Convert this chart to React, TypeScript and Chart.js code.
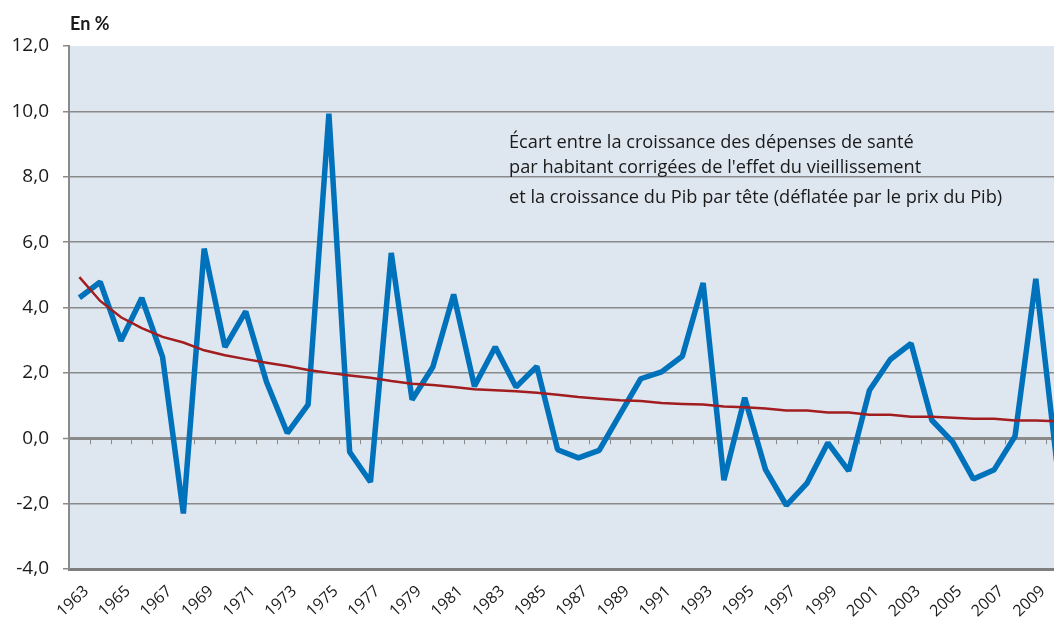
import React, { useEffect, useRef } from 'react';
import { Chart, registerables } from 'chart.js';

Chart.register(...registerables);

// Categories (years)
const years: string[] = [
  '1963', '1964', '1965', '1966', '1967', '1968', '1969', '1970', '1971', '1972',
  '1973', '1974', '1975', '1976', '1977', '1978', '1979', '1980', '1981', '1982',
  '1983', '1984', '1985', '1986', '1987', '1988', '1989', '1990', '1991', '1992',
  '1993', '1994', '1995', '1996', '1997', '1998', '1999', '2000', '2001', '2002',
  '2003', '2004', '2005', '2006', '2007', '2008', '2009', '2010',
];

// Écart entre croissance des dépenses de santé et croissance du Pib (en %)
const ecart: number[] = [
  4.30, 4.78, 2.98, 4.29, 2.49, -2.30, 5.80, 2.79, 3.88, 1.72,
  0.16, 1.03, 9.93, -0.42, -1.34, 5.67, 1.18, 2.18, 4.40, 1.59,
  2.79, 1.57, 2.20, -0.35, -0.60, -0.37, 0.73, 1.82, 2.03, 2.51,
  4.75, -1.28, 1.24, -0.96, -2.05, -1.37, -0.14, -1.00, 1.47, 2.41,
  2.90, 0.55, -0.11, -1.25, -0.96, 0.06, 4.88, -0.70,
];

// Tendance
const tendance: number[] = [
  4.93, 4.20, 3.70, 3.37, 3.10, 2.93, 2.69, 2.54, 2.42, 2.31,
  2.21, 2.09, 2.00, 1.92, 1.85, 1.75, 1.67, 1.63, 1.57, 1.50,
  1.47, 1.44, 1.39, 1.33, 1.26, 1.21, 1.16, 1.14, 1.08, 1.05,
  1.03, 0.97, 0.95, 0.91, 0.85, 0.85, 0.79, 0.79, 0.72, 0.72,
  0.66, 0.66, 0.63, 0.60, 0.60, 0.54, 0.54, 0.52,
];

const yMin = -4;
const yMax = 12;
const yStep = 2;

const unitLabel = 'En %';
const noteLines: string[] = [
  "Écart entre la croissance des dépenses de santé",
  "par habitant corrigées de l'effet du vieillissement",
  "et la croissance du Pib par tête (déflatée par le prix du Pib)",
];

const GRID = '#8a8a8a';

const plotBg = {
  id: 'plotBg',
  beforeDraw(chart: any) {
    const { ctx, chartArea: a } = chart;
    ctx.save();
    ctx.fillStyle = '#dee6f0';
    ctx.fillRect(a.left, a.top, a.right - a.left, a.bottom - a.top);
    ctx.restore();
  },
};

const zeroTicks = {
  id: 'zeroTicks',
  beforeDatasetsDraw(chart: any) {
    const { ctx } = chart;
    const xs = chart.scales.x;
    const ys = chart.scales.y;
    const y0 = ys.getPixelForValue(0);
    const n = years.length;
    ctx.save();
    ctx.strokeStyle = GRID;
    ctx.lineWidth = 1;
    ctx.beginPath();
    for (let i = 1; i < n; i++) {
      const px = Math.round((xs.getPixelForValue(i - 1) + xs.getPixelForValue(i)) / 2) + 0.5;
      ctx.moveTo(px, y0);
      ctx.lineTo(px, y0 + 6);
    }
    ctx.stroke();
    ctx.restore();
  },
};

export default function App() {
  const canvasRef = useRef<HTMLCanvasElement | null>(null);

  useEffect(() => {
    if (!canvasRef.current) return;
    const chart = new Chart(canvasRef.current, {
      type: 'line',
      data: {
        labels: years,
        datasets: [
          {
            label: 'Tendance',
            data: tendance,
            borderColor: '#a11d1f',
            borderWidth: 2.5,
            pointRadius: 0,
            tension: 0,
            fill: false,
          },
          {
            label: 'Écart',
            data: ecart,
            borderColor: '#0071bb',
            borderWidth: 5.5,
            borderJoinStyle: 'bevel',
            pointRadius: 0,
            tension: 0,
            fill: false,
          },
        ],
      },
      options: {
        animation: false,
        responsive: false,
        devicePixelRatio: 1,
        layout: { padding: { top: 46, right: 0, bottom: 0, left: 0 } },
        plugins: {
          legend: { display: false },
          tooltip: { enabled: false },
          title: { display: false },
        },
        scales: {
          x: {
            type: 'category',
            offset: true,
            grid: { display: false, drawTicks: false },
            border: { display: true, color: '#7f7f7f', width: 3 },
            ticks: {
              autoSkip: false,
              minRotation: 43,
              maxRotation: 43,
              padding: 13,
              labelOffset: 7,
              color: '#1a1a1a',
              font: { family: 'Open Sans', size: 16 },
              callback: (_v: any, i: number) => (i % 2 === 0 ? years[i] : ''),
            },
            afterFit: (s: any) => {
              s.height = 52;
              s.paddingLeft = 0;
              s.paddingRight = 0;
            },
          },
          y: {
            min: yMin,
            max: yMax,
            grid: {
              color: (c: any) => (c.tick && c.tick.value === yMax ? 'rgba(0,0,0,0)' : GRID),
              lineWidth: (c: any) => (c.tick && c.tick.value === 0 ? 3 : 1.5),
              tickColor: GRID,
              tickWidth: 1.5,
              tickLength: 6,
              drawTicks: true,
            },
            border: { display: true, color: GRID, width: 2 },
            ticks: {
              stepSize: yStep,
              padding: 14,
              color: '#1a1a1a',
              font: { family: 'Open Sans', size: 19 },
              callback: (v: any) => Number(v).toFixed(1).replace('.', ','),
            },
            afterFit: (s: any) => {
              s.width = 69;
            },
          },
        },
      },
      plugins: [plotBg, zeroTicks],
    } as any);
    return () => chart.destroy();
  }, []);

  return (
    <div
      style={{
        position: 'absolute',
        left: 0,
        top: 0,
        width: 1054,
        height: 621,
        overflow: 'hidden',
        background: '#ffffff',
      }}
    >
      <canvas ref={canvasRef} width={1067} height={621} style={{ display: 'block' }} />
      <div
        style={{
          position: 'absolute',
          left: 70,
          top: 14,
          fontFamily: 'Lato',
          fontWeight: 700,
          fontSize: 18,
          lineHeight: '18px',
          color: '#1a1a1a',
          whiteSpace: 'nowrap',
        }}
      >
        {unitLabel}
      </div>
      {noteLines.map((t, i) => (
        <div
          key={i}
          style={{
            position: 'absolute',
            left: 509,
            top: [132, 157, 187][i],
            fontFamily: 'Open Sans',
            fontSize: 18.2,
            lineHeight: '18.2px',
            color: '#1a1a1a',
            whiteSpace: 'nowrap',
          }}
        >
          {t}
        </div>
      ))}
    </div>
  );
}
